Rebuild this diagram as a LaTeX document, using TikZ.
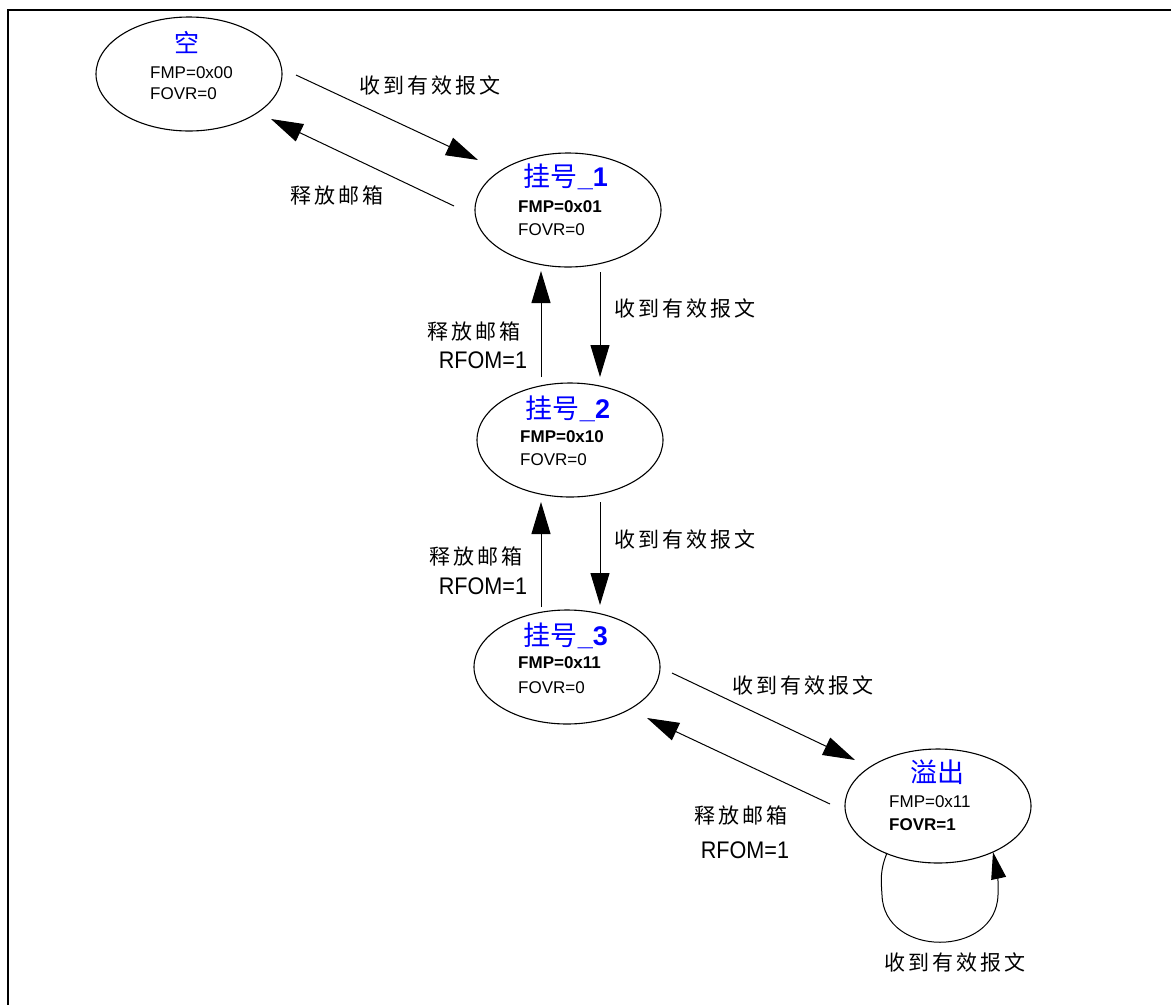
\documentclass[tikz,border=0pt]{standalone}
\usepackage{fontspec}
\usepackage{graphicx}
\setmainfont{Liberation Sans}
\newfontfamily\cjk{Noto Sans CJK SC}
\newfontfamily\cjkls[LetterSpace=15]{Noto Sans CJK SC}
\usetikzlibrary{shapes.geometric,arrows.meta}
\definecolor{ttlblue}{RGB}{0,0,255}
\tikzset{
 state/.style={draw, ellipse, line width=1.1pt, minimum width=186pt, minimum height=114pt, inner sep=0pt},
 ttl/.style={text=ttlblue, font=\cjk\fontsize{27}{30}\selectfont, inner sep=0pt},
 info/.style={anchor=west, font=\fontsize{17}{20}\selectfont, inner sep=0pt},
 infob/.style={anchor=west, font=\bfseries\fontsize{17}{20}\selectfont, inner sep=0pt},
 lbl/.style={font=\cjkls\fontsize{21}{24}\selectfont, inner sep=0pt},
 rfom/.style={font=\fontsize{24}{28}\selectfont, inner sep=0pt},
 arr/.style={line width=1pt, -{Triangle[length=32pt,width=19pt]}},
 looparr/.style={line width=1pt, -{Triangle[length=27pt,width=15pt]}},
}
\begin{document}
\begin{tikzpicture}[x=1pt,y=-1pt]
\useasboundingbox (0,0) rectangle (1171,1005);
\draw[line width=1.5pt] (1171,10) -- (8,10) -- (8,1005);

% states
\node[state] (e0) at (189,74) {};
\node[state] (e1) at (568,210) {};
\node[state] (e2) at (570,440) {};
\node[state] (e3) at (567,667) {};
\node[state] (e4) at (938,806) {};

% texts in states
\node[ttl, font=\cjk\fontsize{25}{28}\selectfont] (t0) at (187,42) {空};
\node[info] (f0) at (150,73) {FMP=0x00};
\node[info] (o0) at (150,94) {FOVR=0};

\node[ttl] (t1) at (566,177) {挂号{\normalfont\bfseries\_1}};
\node[infob] (f1) at (518,207) {FMP=0x01};
\node[info] (o1) at (518,230) {FOVR=0};

\node[ttl] (t2) at (568,409) {挂号{\normalfont\bfseries\_2}};
\node[infob] (f2) at (520,437) {FMP=0x10};
\node[info] (o2) at (520,460) {FOVR=0};

\node[ttl] (t3) at (566,636) {挂号{\normalfont\bfseries\_3}};
\node[infob] (f3) at (518,663) {FMP=0x11};
\node[info] (o3) at (518,688) {FOVR=0};

\node[ttl] (t4) at (937,772) {溢出};
\node[info] (f4) at (889,802) {FMP=0x11};
\node[infob] (o4) at (889,825) {FOVR=1};

% connector end points
\coordinate (a01s) at (296,75);  \coordinate (a01e) at (478,160);
\coordinate (a10s) at (454,206); \coordinate (a10e) at (271,119);
\coordinate (a12s) at (600,272); \coordinate (a12e) at (600,377);
\coordinate (a21s) at (541,377); \coordinate (a21e) at (541,271);
\coordinate (a23s) at (600,502); \coordinate (a23e) at (600,605);
\coordinate (a32s) at (541,607); \coordinate (a32e) at (541,502);
\coordinate (a34s) at (672,673); \coordinate (a34e) at (855,760);
\coordinate (a43s) at (830,804); \coordinate (a43e) at (647,718);
\coordinate (a44s) at (887,853); \coordinate (a44e) at (993,852);

\draw[arr] (a01s) -- (a01e);
\draw[arr] (a10s) -- (a10e);
\draw[arr] (a12s) -- (a12e);
\draw[arr] (a21s) -- (a21e);
\draw[arr] (a23s) -- (a23e);
\draw[arr] (a32s) -- (a32e);
\draw[arr] (a34s) -- (a34e);
\draw[arr] (a43s) -- (a43e);
\draw[looparr] (a44s) .. controls (880,870) and (881,880) .. (882,895)
   .. controls (884,958) and (996,958) .. (998,895)
   .. controls (999,880) and (996,866) .. (a44e);

% labels
\node[lbl] (l01) at (430,85) {收到有效报文};
\node[lbl] (l10) at (337,195) {释放邮箱};
\node[lbl] (l12) at (685,308) {收到有效报文};
\node[lbl] (l21) at (474,331) {释放邮箱};
\node[rfom] (r21) at (483,360) {\scalebox{0.9}[1]{RFOM=1}};
\node[lbl] (l23) at (685,539) {收到有效报文};
\node[lbl] (l32) at (476,556) {释放邮箱};
\node[rfom] (r32) at (483,586) {\scalebox{0.9}[1]{RFOM=1}};
\node[lbl] (l34) at (803,685) {收到有效报文};
\node[lbl] (l43) at (741,815) {释放邮箱};
\node[rfom] (r43) at (745,850) {\scalebox{0.9}[1]{RFOM=1}};
\node[lbl] (l44) at (955,962) {收到有效报文};
\end{tikzpicture}
\end{document}
